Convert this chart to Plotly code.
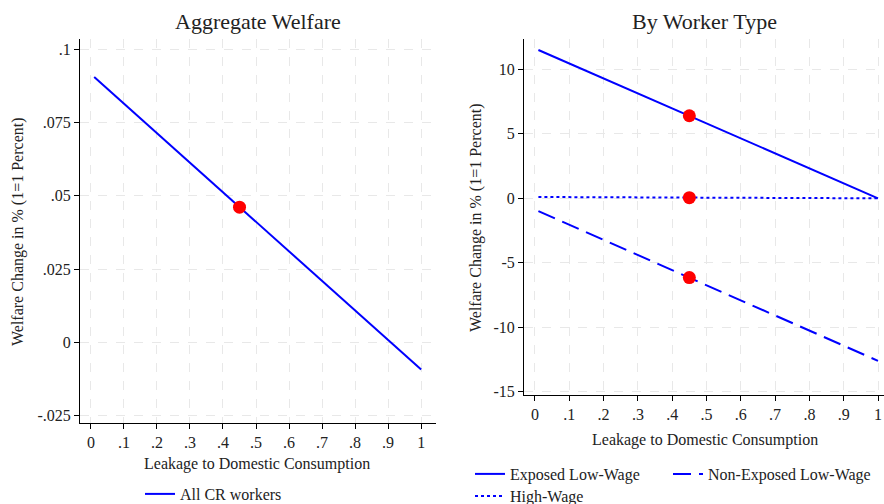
import plotly.graph_objects as go

# Data
leakage = [0.01, 0.45, 1.0]
agg_welfare = [0.0905, 0.0461, -0.0093]
exposed_low = [11.5, 6.4, 0.0]
high_wage = [0.1, 0.05, 0.0]
nonexposed_low = [-1.0, -6.15, -12.6]
point_x = 0.45
agg_point = 0.0461
type_points = [6.4, 0.05, -6.15]

x_ticks = [0, 0.1, 0.2, 0.3, 0.4, 0.5, 0.6, 0.7, 0.8, 0.9, 1.0]
x_ticktext = ["0", ".1", ".2", ".3", ".4", ".5", ".6", ".7", ".8", ".9", "1"]
left_yticks = [-0.025, 0, 0.025, 0.05, 0.075, 0.1]
left_yticktext = ["-.025", "0", ".025", ".05", ".075", ".1"]
right_yticks = [-15, -10, -5, 0, 5, 10]
right_yticktext = ["-15", "-10", "-5", "0", "5", "10"]

FONT = "Liberation Serif, Times New Roman, DejaVu Serif, serif"
BLUE = "#0000ff"
TXT = "#222"

fig = go.Figure()

fig.add_trace(go.Scatter(x=leakage, y=agg_welfare, mode="lines", name="All CR workers",
                         line=dict(color=BLUE, width=2), xaxis="x", yaxis="y", legend="legend"))
fig.add_trace(go.Scatter(x=[point_x], y=[agg_point], mode="markers", showlegend=False,
                         marker=dict(color="red", size=13), xaxis="x", yaxis="y"))

fig.add_trace(go.Scatter(x=leakage, y=exposed_low, mode="lines", name="Exposed Low-Wage",
                         line=dict(color=BLUE, width=2), xaxis="x2", yaxis="y2", legend="legend2"))
fig.add_trace(go.Scatter(x=leakage, y=nonexposed_low, mode="lines", name="Non-Exposed Low-Wage",
                         line=dict(color=BLUE, width=2, dash="18px,8px"), xaxis="x2", yaxis="y2", legend="legend4"))
fig.add_trace(go.Scatter(x=leakage, y=high_wage, mode="lines", name="High-Wage",
                         line=dict(color=BLUE, width=2, dash="dot"), xaxis="x2", yaxis="y2", legend="legend3"))
fig.add_trace(go.Scatter(x=[point_x] * 3, y=type_points, mode="markers", showlegend=False,
                         marker=dict(color="red", size=13), xaxis="x2", yaxis="y2"))

axis_common = dict(showline=True, linecolor="black", linewidth=1, ticks="outside", ticklen=5,
                   tickcolor="black", showgrid=True, gridcolor="#e8e8e8", griddash="dash",
                   gridwidth=1, zeroline=False, automargin=False,
                   tickfont=dict(family=FONT, size=16, color=TXT))

leg_font = dict(family=FONT, size=16, color=TXT)

fig.update_layout(
    width=884, height=504,
    margin=dict(l=0, r=0, t=0, b=0, autoexpand=False),
    paper_bgcolor="white", plot_bgcolor="white",
    font=dict(family=FONT, size=16, color=TXT),
    xaxis=dict(domain=[80 / 884, 436 / 884], range=[-0.033, 1.045], tickvals=x_ticks,
               ticktext=x_ticktext, anchor="y", **axis_common),
    yaxis=dict(domain=[1 - 423 / 504, 1 - 39.3 / 504], range=[-0.02756, 0.1034],
               tickvals=left_yticks, ticktext=left_yticktext, anchor="x", **axis_common),
    xaxis2=dict(domain=[524 / 884, 1.0], range=[-0.032, 1.0175], tickvals=x_ticks,
                ticktext=x_ticktext, anchor="y2", **axis_common),
    yaxis2=dict(domain=[1 - 395 / 504, 1 - 39 / 504], range=[-15.25, 12.35],
                tickvals=right_yticks, ticktext=right_yticktext, anchor="x2", **axis_common),
    legend=dict(orientation="h", x=140 / 884, xanchor="left", y=1 - 477 / 504, yanchor="top",
                font=leg_font, bgcolor="rgba(0,0,0,0)"),
    legend2=dict(orientation="h", x=470 / 884, xanchor="left", y=1 - 457 / 504, yanchor="top",
                 font=leg_font, bgcolor="rgba(0,0,0,0)"),
    legend4=dict(orientation="h", x=668 / 884, xanchor="left", y=1 - 457 / 504, yanchor="top",
                 font=leg_font, bgcolor="rgba(0,0,0,0)"),
    legend3=dict(orientation="h", x=470 / 884, xanchor="left", y=1 - 479 / 504, yanchor="top",
                 font=leg_font, bgcolor="rgba(0,0,0,0)"),
    annotations=[
        dict(text="Aggregate Welfare", x=258 / 884, y=1 - 22 / 504, xref="paper", yref="paper",
             showarrow=False, font=dict(family=FONT, size=22, color=TXT), xanchor="center", yanchor="middle"),
        dict(text="By Worker Type", x=704 / 884, y=1 - 22 / 504, xref="paper", yref="paper",
             showarrow=False, font=dict(family=FONT, size=22, color=TXT), xanchor="center", yanchor="middle"),
        dict(text="Welfare Change in % (1=1 Percent)", x=18 / 884, y=1 - 232 / 504, xref="paper", yref="paper",
             showarrow=False, textangle=-90, font=dict(family=FONT, size=16, color=TXT),
             xanchor="center", yanchor="middle"),
        dict(text="Welfare Change in % (1=1 Percent)", x=476 / 884, y=1 - 218 / 504, xref="paper", yref="paper",
             showarrow=False, textangle=-90, font=dict(family=FONT, size=16, color=TXT),
             xanchor="center", yanchor="middle"),
        dict(text="Leakage to Domestic Consumption", x=257 / 884, y=1 - 464 / 504, xref="paper", yref="paper",
             showarrow=False, font=dict(family=FONT, size=16, color=TXT), xanchor="center", yanchor="middle"),
        dict(text="Leakage to Domestic Consumption", x=705 / 884, y=1 - 440 / 504, xref="paper", yref="paper",
             showarrow=False, font=dict(family=FONT, size=16, color=TXT), xanchor="center", yanchor="middle"),
    ],
)

fig.write_html("out.html", post_script="document.body.style.margin='0';",
               config={"displayModeBar": False})
